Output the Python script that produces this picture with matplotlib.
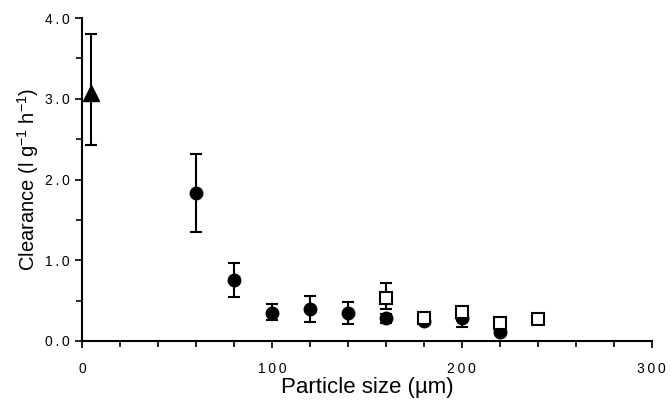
import matplotlib
matplotlib.use('Agg')
import matplotlib.pyplot as plt
import numpy as np

plt.rcParams['font.family'] = ['Liberation Sans', 'DejaVu Sans']
plt.rcParams['mathtext.fontset'] = 'custom'
plt.rcParams['mathtext.rm'] = 'Liberation Sans'

# triangle series
tri_x = [5]
tri_y = [3.07]
tri_lo = [2.43]
tri_hi = [3.80]

# filled circles
circ_x = [60, 80, 100, 120, 140, 160, 180, 200, 220]
circ_y = [1.83, 0.76, 0.35, 0.40, 0.34, 0.28, 0.25, 0.28, 0.11]
circ_lo = [1.35, 0.54, 0.26, 0.24, 0.21, 0.22, 0.22, 0.17, 0.08]
circ_hi = [2.32, 0.97, 0.46, 0.56, 0.48, 0.33, 0.28, 0.33, 0.14]

# open squares
sq_x = [160, 180, 200, 220, 240]
sq_y = [0.53, 0.29, 0.36, 0.22, 0.27]
sq_lo = [0.40, 0.25, 0.31, 0.18, 0.23]
sq_hi = [0.72, 0.33, 0.41, 0.26, 0.31]

x_ticks = [0, 100, 200, 300]
y_ticks = [0, 1, 2, 3, 4]
y_ticklabels = ['0.0', '1.0', '2.0', '3.0', '4.0']

def spaced(s):
    # old-style letter spaced tick labels
    return '\u2009'.join(s)

fig = plt.figure(figsize=(6.72, 4.03), dpi=100)
ax = fig.add_axes([0.122, 0.154, 0.848, 0.801])

def err(y, lo, hi):
    y = np.array(y)
    return [y - np.array(lo), np.array(hi) - y]

ax.errorbar(circ_x, circ_y, yerr=err(circ_y, circ_lo, circ_hi), fmt='o', color='black',
            ms=9, capsize=4.3, elinewidth=1.5, capthick=1.5, zorder=3)
ax.errorbar(sq_x, sq_y, yerr=err(sq_y, sq_lo, sq_hi), fmt='s', color='black', mfc='white',
            mec='black', mew=1.5, ms=8, capsize=4.3, elinewidth=1.5, capthick=1.5, zorder=4)
ax.errorbar(tri_x, tri_y, yerr=err(tri_y, tri_lo, tri_hi), fmt='^', color='black',
            ms=11, capsize=4.3, elinewidth=1.5, capthick=1.5, zorder=3)

ax.set_xlim(0, 300)
ax.set_ylim(0, 4)
ax.spines['top'].set_visible(False)
ax.spines['right'].set_visible(False)
ax.spines['left'].set_linewidth(1.5)
ax.spines['bottom'].set_linewidth(1.5)

ax.set_xticks(x_ticks)
ax.set_xticklabels([spaced(str(t)) for t in x_ticks])
ax.set_xticks(np.arange(0, 301, 20), minor=True)
ax.set_yticks(y_ticks)
ax.set_yticklabels([spaced(s) for s in y_ticklabels])
ax.set_yticks(np.arange(0, 4.01, 0.5), minor=True)
ax.tick_params(which='both', direction='out', width=1.2, labelsize=10)
ax.tick_params(which='major', length=5)
ax.tick_params(which='minor', length=4)
ax.tick_params(axis='x', pad=10)
ax.tick_params(axis='y', pad=4)

ax.set_xlabel('Particle size (µm)', fontsize=16, labelpad=1)
ax.set_ylabel('Clearance (l g$^{-1}$ h$^{-1}$)', fontsize=14.5)
ax.yaxis.set_label_coords(-0.072, 0.5)

fig.savefig('out.png', dpi=100)
